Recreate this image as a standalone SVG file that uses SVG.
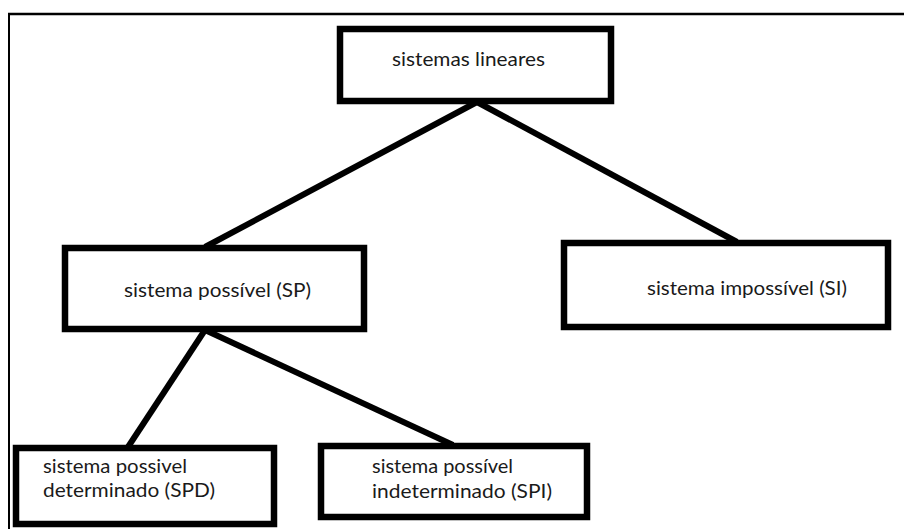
<svg xmlns="http://www.w3.org/2000/svg" width="904" height="529" viewBox="0 0 904 529">
<style>
.box{fill:#fff;stroke:#000;stroke-width:6.5}
.lbl{font-family:Lato,"Open Sans","Liberation Sans",sans-serif;font-size:20px;fill:#1a1a1a}
.con{stroke:#000;stroke-width:6;fill:none}
</style>
<rect x="0" y="0" width="904" height="529" fill="#fff"/>
<g id="frame">
<line x1="8" y1="14" x2="904" y2="14" stroke="#000" stroke-width="2.5"/>
<line x1="9" y1="13" x2="9" y2="529" stroke="#000" stroke-width="2"/>
</g>
<g id="connectors">
<line class="con" x1="477" y1="102" x2="205" y2="247"/>
<line class="con" x1="477" y1="102" x2="737" y2="242"/>
<line class="con" x1="205" y1="330" x2="128" y2="447"/>
<line class="con" x1="205" y1="330" x2="453" y2="445"/>
</g>
<g id="n-lineares">
<rect class="box" x="340" y="29" width="271" height="72"/>
<text class="lbl" x="392" y="66" textLength="153" lengthAdjust="spacingAndGlyphs">sistemas lineares</text>
</g>
<g id="n-sp">
<rect class="box" x="65" y="248" width="299" height="81"/>
<text class="lbl" x="124" y="297" textLength="187" lengthAdjust="spacingAndGlyphs">sistema possível (SP)</text>
</g>
<g id="n-si">
<rect class="box" x="564" y="243" width="324" height="84"/>
<text class="lbl" x="647" y="295" textLength="200" lengthAdjust="spacingAndGlyphs">sistema impossível (SI)</text>
</g>
<g id="n-spd">
<rect class="box" x="16" y="448" width="258" height="76"/>
<text class="lbl" x="43" y="473" textLength="144" lengthAdjust="spacingAndGlyphs">sistema possivel</text>
<text class="lbl" x="43" y="497" textLength="172" lengthAdjust="spacingAndGlyphs">determinado (SPD)</text>
</g>
<g id="n-spi">
<rect class="box" x="321" y="446" width="266" height="71"/>
<text class="lbl" x="372" y="473" textLength="141" lengthAdjust="spacingAndGlyphs">sistema possível</text>
<text class="lbl" x="372" y="498" textLength="180" lengthAdjust="spacingAndGlyphs">indeterminado (SPI)</text>
</g>
</svg>
